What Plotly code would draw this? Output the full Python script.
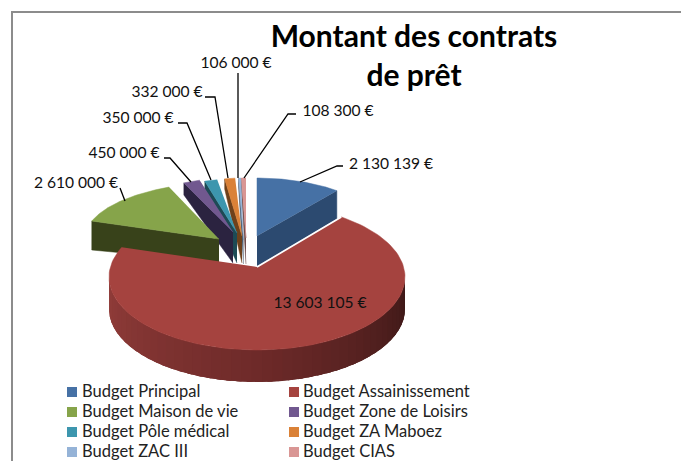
import numpy as np
import plotly.graph_objects as go

# ---- data ----
categories = ["Budget Principal", "Budget Assainissement", "Budget Maison de vie",
              "Budget Zone de Loisirs", "Budget Pôle médical", "Budget ZA Maboez",
              "Budget ZAC III", "Budget CIAS"]
values = [2130139, 13603105, 2610000, 450000, 350000, 332000, 106000, 108300]
title_text = "Montant des contrats<br>de prêt"

# ---- style ----
top_colors = ["#4671a5", "#a5433f", "#86a44a", "#71588f", "#3d96ae", "#da8137", "#95b3d7", "#d99694"]
side_colors = ["#2c4a70", "#6e2a29", "#38421a", "#2b2340", "#1d4a55", "#6e411b", "#4a5a6c", "#6d4b4a"]
apex_x = [257, 257, 219, 233, 237, 242, 243.5, 246]
apex_y = [236, 267, 239, 232, 233, 236, 240, 238]
center_x = [257, 257, 229, 233, 237, 242, 243.5, 246]
center_y = [235, 277, 238, 232, 233, 236, 240, 238]
radius_x = [127, 148, 144, 118, 114, 100, 72, 138]
radius_y = [57, 73, 56, 54, 54, 58, 62, 60]
depth_apex = [30, 32, 23, 31, 30, 27, 24, 26]
depth_edge = [28, 32, 29, 12, 11, 10, 9, 9]
side_edge = [1, None, 0, 0, 0, 0, 0, 0]   # which radial wall is seen
warp = [0, 6.7, 0, 0, 0, 0, 0, 0]

label_x = [391, 320, 76, 124, 138, 167, 236, 338]
label_y = [165, 304, 184, 154, 119, 93, 64, 112]
leader_x = [[343, 337, 300], None, [120, 125], [164, 170, 191], [178, 187, 211],
            [205, 215, 228], [238, 238], [296, 288, 244]]
leader_y = [[166, 166, 182], None, [188, 201], [158, 158, 182], [123, 123, 180],
            [97, 97, 178], [73, 178], [114, 114, 178]]
legend_x = [72, 294]
legend_text_x = [82, 303]
legend_y = [392, 412, 432, 452]
FONT = "Lato"


def fmt(v):
    return f"{v:,}".replace(",", "\u202f") + "\u202f€"


def pt(i, t):
    """Position on slice i's top rim at pie angle t (degrees, clockwise from north)."""
    t = np.asarray(t, dtype=float)
    p = np.radians(t - warp[i] * np.sin(np.radians(t)))
    return center_x[i] + radius_x[i] * np.sin(p), center_y[i] - radius_y[i] * np.cos(p)


def poly(xs, ys, color, width=0.5):
    return go.Scatter(x=list(xs), y=list(ys), mode="lines", fill="toself", fillcolor=color,
                      line=dict(color=color, width=width), hoverinfo="skip", showlegend=False)


def mix(c0, c1, f):
    a = [int(c0[k:k + 2], 16) for k in (1, 3, 5)]
    b = [int(c1[k:k + 2], 16) for k in (1, 3, 5)]
    return "#" + "".join(f"{round(x + (y - x) * f):02x}" for x, y in zip(a, b))


angles = np.cumsum([0] + values) / sum(values) * 360
fig = go.Figure()

# slices, drawn back to front; the big red one goes last
for i in [0, 7, 6, 5, 4, 3, 2, 1]:
    a0, a1 = angles[i], angles[i + 1]
    ts = np.linspace(a0, a1, 120)
    ax, ay = pt(i, ts)
    if side_edge[i] is not None:
        ex, ey = pt(i, ts[-1] if side_edge[i] else ts[0])
        fig.add_trace(poly([apex_x[i], ex, ex, apex_x[i]],
                           [apex_y[i], ey, ey + depth_edge[i], apex_y[i] + depth_apex[i]],
                           side_colors[i]))
    else:
        # outer rim: shaded strip from the right extreme round to the left extreme
        edges = np.linspace(90, 270, 46)
        for t0, t1 in zip(edges[:-1], edges[1:]):
            m = (t0 + t1) / 2
            tt = np.linspace(t0, min(t1 + 6, 270), 8)
            rx0 = center_x[i] + radius_x[i] * np.sin(np.radians(tt))
            ry0 = center_y[i] - radius_y[i] * np.cos(np.radians(tt))
            c = mix("#3c1817", "#6e2a29", (m - 90) / 90) if m < 180 else mix("#6e2a29", "#923d3a", (m - 180) / 90)
            fig.add_trace(poly([*rx0, *rx0[::-1]], [*ry0, *(ry0[::-1] + depth_apex[i])], c, 0))
    fig.add_trace(poly([apex_x[i], *ax], [apex_y[i], *ay], top_colors[i]))
    if i == 1:
        ex, ey = pt(i, ts[0])
        fig.add_trace(go.Scatter(x=[apex_x[i], ex], y=[apex_y[i], ey], mode="lines",
                                 line=dict(color="white", width=1.6), hoverinfo="skip", showlegend=False))

# leader lines
for lx, ly in zip(leader_x, leader_y):
    if lx:
        fig.add_trace(go.Scatter(x=lx, y=ly, mode="lines", line=dict(color="black", width=1.3),
                                 hoverinfo="skip", showlegend=False))

# data labels
fig.add_trace(go.Scatter(x=label_x, y=label_y, mode="text", text=[fmt(v) for v in values],
                         textposition="middle center", textfont=dict(family=FONT, size=15.6, color="#111"),
                         hoverinfo="skip", showlegend=False))

# legend, two columns
leg_x = [legend_x[k % 2] for k in range(len(categories))]
leg_tx = [legend_text_x[k % 2] for k in range(len(categories))]
leg_y = [legend_y[k // 2] for k in range(len(categories))]
fig.add_trace(go.Scatter(x=leg_x, y=leg_y, mode="markers",
                         marker=dict(symbol="square", size=10, color=top_colors),
                         hoverinfo="skip", showlegend=False))
fig.add_trace(go.Scatter(x=leg_tx, y=[v + 1 for v in leg_y], mode="text", text=categories, textposition="middle right",
                         textfont=dict(family=FONT, size=16.5, color="#222"),
                         hoverinfo="skip", showlegend=False))

fig.update_layout(
    width=681, height=461, margin=dict(l=0, r=0, t=0, b=0), autosize=False,
    paper_bgcolor="white", plot_bgcolor="white", showlegend=False,
    title=dict(text=title_text, x=414 / 681, xanchor="center", y=0.899, yanchor="top", yref="container",
               font=dict(family=FONT, size=30, color="black", weight="bold")),
    xaxis=dict(range=[0, 681], visible=False, fixedrange=True),
    yaxis=dict(range=[461, 0], visible=False, fixedrange=True),
    shapes=[dict(type="path", path="M 12 470 L 12 12 L 690 12", xref="x", yref="y",
                 line=dict(color="#8c8c8c", width=2), layer="below")],
)
fig.write_html("out.html", config=dict(displayModeBar=False),
               post_script="document.body.style.margin='0';")
